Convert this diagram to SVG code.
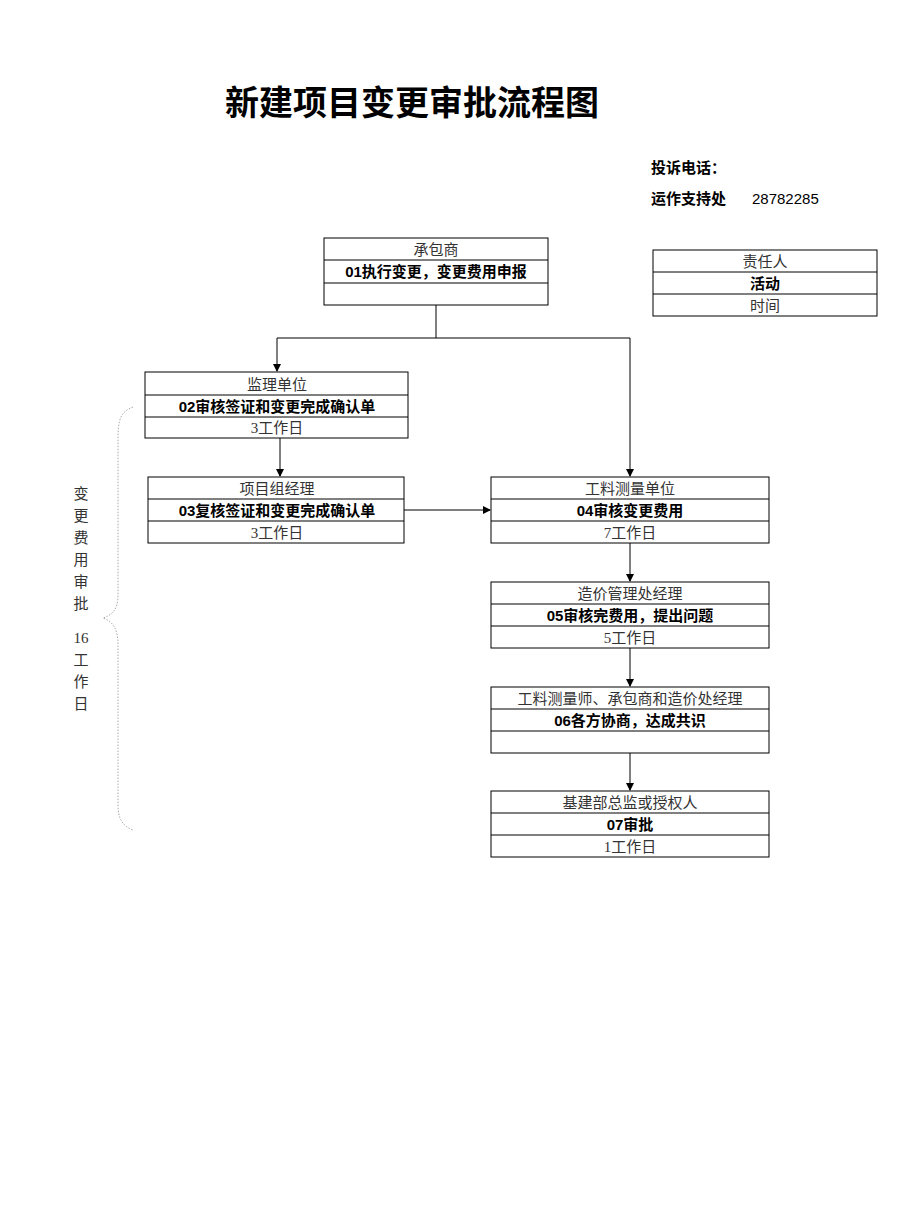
<svg xmlns="http://www.w3.org/2000/svg" width="920" height="1227" viewBox="0 0 920 1227">
<defs>
<style>
.b{fill:#fff;stroke:#000;stroke-width:1}
.t{font-family:"Liberation Serif","Noto Sans CJK SC",serif;font-size:15px;fill:#333;text-anchor:middle}
.a{font-family:"Liberation Sans","Noto Sans CJK SC",sans-serif;font-size:15px;font-weight:bold;fill:#000;text-anchor:middle}
.c{stroke:#000;stroke-width:1;fill:none}
</style>
<marker id="ar" markerWidth="8" markerHeight="8" refX="7" refY="4" orient="auto" markerUnits="userSpaceOnUse"><path d="M0,0 L8,4 L0,8 z" fill="#000"/></marker>
</defs>
<rect width="920" height="1227" fill="#fff"/>
<text x="225" y="115" font-family="Liberation Sans,'Noto Sans CJK SC',sans-serif" font-size="34" font-weight="bold">新建项目变更审批流程图</text>
<text x="651" y="173" font-family="Liberation Sans,'Noto Sans CJK SC',sans-serif" font-size="15" font-weight="bold">投诉电话：</text>
<text x="651" y="204" font-family="Liberation Sans,'Noto Sans CJK SC',sans-serif" font-size="15" font-weight="bold">运作支持处</text>
<text x="752" y="204" font-family="Liberation Sans,'Noto Sans CJK SC',sans-serif" font-size="15">28782285</text>
<g id="connectors">
<path class="c" d="M436,305 V338 M277,338 H630"/>
<path class="c" d="M277,338 V371" marker-end="url(#ar)"/>
<path class="c" d="M630,338 V476" marker-end="url(#ar)"/>
<path class="c" d="M280,438 V476" marker-end="url(#ar)"/>
<path class="c" d="M404,510 H490" marker-end="url(#ar)"/>
<path class="c" d="M630,543 V581" marker-end="url(#ar)"/>
<path class="c" d="M630,648 V686" marker-end="url(#ar)"/>
<path class="c" d="M630,753 V790" marker-end="url(#ar)"/>
</g>
<g id="n01"><rect class="b" x="324" y="238" width="224" height="67"/><path class="c" d="M324,260H548M324,283H548"/><text class="t" x="436" y="255">承包商</text><text class="a" x="436" y="277">01执行变更，变更费用申报</text></g>
<g id="legend"><rect class="b" x="653" y="250" width="224" height="66"/><path class="c" d="M653,272H877M653,294H877"/><text class="t" x="765" y="267">责任人</text><text class="a" x="765" y="289">活动</text><text class="t" x="765" y="311">时间</text></g>
<g id="n02"><rect class="b" x="145" y="372" width="263" height="66"/><path class="c" d="M145,395H408M145,417H408"/><text class="t" x="277" y="390">监理单位</text><text class="a" x="277" y="412">02审核签证和变更完成确认单</text><text class="t" x="277" y="433">3工作日</text></g>
<g id="n03"><rect class="b" x="148" y="477" width="256" height="66"/><path class="c" d="M148,499H404M148,521H404"/><text class="t" x="277" y="494">项目组经理</text><text class="a" x="277" y="516">03复核签证和变更完成确认单</text><text class="t" x="277" y="538">3工作日</text></g>
<g id="n04"><rect class="b" x="491" y="477" width="278" height="66"/><path class="c" d="M491,499H769M491,521H769"/><text class="t" x="630" y="494">工料测量单位</text><text class="a" x="630" y="516">04审核变更费用</text><text class="t" x="630" y="538">7工作日</text></g>
<g id="n05"><rect class="b" x="491" y="582" width="278" height="66"/><path class="c" d="M491,604H769M491,626H769"/><text class="t" x="630" y="599">造价管理处经理</text><text class="a" x="630" y="621">05审核完费用，提出问题</text><text class="t" x="630" y="643">5工作日</text></g>
<g id="n06"><rect class="b" x="491" y="687" width="278" height="66"/><path class="c" d="M491,709H769M491,731H769"/><text class="t" x="630" y="704">工料测量师、承包商和造价处经理</text><text class="a" x="630" y="726">06各方协商，达成共识</text></g>
<g id="n07"><rect class="b" x="491" y="791" width="278" height="66"/><path class="c" d="M491,813H769M491,835H769"/><text class="t" x="630" y="808">基建部总监或授权人</text><text class="a" x="630" y="830">07审批</text><text class="t" x="630" y="852">1工作日</text></g>
<g id="brace">
<path d="M133,407 C120,412 118,420 118,440 V595 C118,610 112,615 103,618 C112,621 118,628 118,645 V805 C118,818 122,826 133,830" fill="none" stroke="#aaa" stroke-width="1" stroke-dasharray="1.5,1.5"/>
<text class="t" x="81" y="499">变</text><text class="t" x="81" y="521">更</text><text class="t" x="81" y="543">费</text><text class="t" x="81" y="565">用</text><text class="t" x="81" y="587">审</text><text class="t" x="81" y="609">批</text>
<text class="t" x="81" y="643">16</text><text class="t" x="81" y="665">工</text><text class="t" x="81" y="687">作</text><text class="t" x="81" y="709">日</text>
</g>
</svg>
